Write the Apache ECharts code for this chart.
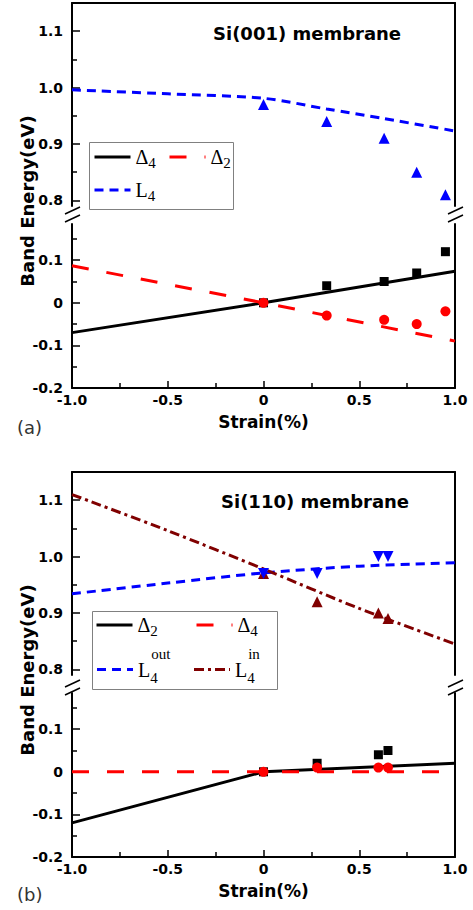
<!DOCTYPE html>
<html>
<head>
<meta charset="utf-8">
<script src="https://cdn.jsdelivr.net/npm/echarts@6/dist/echarts.min.js"></script>
<style>
  html, body { margin: 0; padding: 0; background: #fff; }
  #chart { width: 473px; height: 910px; }
</style>
</head>
<body>
<div id="chart"></div>
<script>
// (a) Si(001) membrane - computed points
const aStrain = [0, 0.33, 0.63, 0.8, 0.95];
const aDelta4 = [0, 0.04, 0.05, 0.07, 0.12];
const aDelta2 = [0, -0.03, -0.04, -0.05, -0.02];
const aL4 = [0.97, 0.94, 0.91, 0.85, 0.81];
// (a) model lines
const aFitStrain = [-1, 0, 1];
const aDelta4Fit = [-0.07, 0, 0.074];
const aDelta2Fit = [0.087, 0, -0.09];
const aL4FitStrain = [-1, -0.5, 0, 0.33, 0.63, 1];
const aL4Fit = [0.996, 0.989, 0.981, 0.962, 0.945, 0.923];

// (b) Si(110) membrane - computed points
const bStrain = [0, 0.28, 0.6, 0.65];
const bDelta2 = [0, 0.02, 0.04, 0.05];
const bDelta4 = [0, 0.01, 0.01, 0.01];
const bLout = [0.97, 0.97, 1.0, 1.0];
const bLin = [0.97, 0.92, 0.90, 0.89];
// (b) model lines
const bFitStrain = [-1, 0, 1];
const bDelta2Fit = [-0.12, 0, 0.02];
const bDelta4Fit = [0, 0, 0];
const bLFitStrain = [-1, -0.5, 0, 0.5, 1];
const bLoutFit = [0.934, 0.953, 0.971, 0.983, 0.989];
const bLinFit = [1.11, 1.046, 0.978, 0.908, 0.845];

// tick values
const xTicks = [-1, -0.5, 0, 0.5, 1];
const upperTicks = [0.8, 0.9, 1.0, 1.1];
const upperMinor = [0.85, 0.95, 1.05];
const lowerTicks = [-0.2, -0.1, 0, 0.1];
const lowerMinor = [-0.15, -0.05, 0.05, 0.15];
const upperRange = [0.79, 1.15];
const lowerRange = [-0.2, 0.185];

const BOLD = 'DejaVu Sans';
const SERIF = 'Liberation Serif';
const PLOT_L = 72, PLOT_R = 18;
const panelTops = [3, 472];

const zip = (xs, ys) => xs.map((x, i) => [x, ys[i]]);
const fmt = v => (v === 0 ? '0' : v.toFixed(1));

const chart = echarts.init(document.getElementById('chart'), null, { renderer: 'svg' });

// grids: 0 a-upper, 1 a-lower, 2 b-upper, 3 b-lower
const grids = [];
panelTops.forEach(t => {
  grids.push({ left: PLOT_L, right: PLOT_R, top: t, height: 203 });
  grids.push({ left: PLOT_L, right: PLOT_R, top: t + 221, height: 164 });
});

const axisLine = { show: true, onZero: false, lineStyle: { color: '#000', width: 2 } };
const xAxes = grids.map((g, gi) => {
  const lower = gi % 2 === 1;
  if (!lower) {
    return {
      gridIndex: gi, type: 'value', min: -1, max: 1, position: 'top',
      axisLine, axisTick: { show: false }, axisLabel: { show: false }, splitLine: { show: false }
    };
  }
  return {
    gridIndex: gi, type: 'value', min: -1, max: 1, interval: 0.5, position: 'bottom',
    axisLine,
    axisTick: { show: true, inside: true, length: 7, customValues: xTicks, lineStyle: { color: '#000', width: 1.5 } },
    minorTick: { show: true, splitNumber: 2, length: 5, lineStyle: { color: '#000', width: 1.5 } },
    axisLabel: { customValues: xTicks, formatter: fmt, margin: 5, fontFamily: BOLD, fontWeight: 'bold', fontSize: 14, color: '#000' },
    splitLine: { show: false },
    name: 'Strain(%)', nameLocation: 'middle', nameGap: 25,
    nameTextStyle: { fontFamily: BOLD, fontWeight: 'bold', fontSize: 17, color: '#000' }
  };
});

const yAxes = [];
grids.forEach((g, gi) => {
  const lower = gi % 2 === 1;
  const [mn, mx] = lower ? lowerRange : upperRange;
  const ticks = lower ? lowerTicks : upperTicks;
  const minor = lower ? lowerMinor : upperMinor;
  yAxes.push({
    gridIndex: gi, type: 'value', min: mn, max: mx, position: 'left',
    axisLine,
    axisTick: { show: true, inside: true, length: 8, customValues: ticks, lineStyle: { color: '#000', width: 1.5 } },
    axisLabel: { customValues: ticks, formatter: fmt, margin: 9, fontFamily: BOLD, fontWeight: 'bold', fontSize: 14, color: '#000' },
    splitLine: { show: false }
  });
  yAxes.push({
    gridIndex: gi, type: 'value', min: mn, max: mx, position: 'left',
    axisLine: { show: false, onZero: false },
    axisTick: { show: true, inside: true, length: 5, customValues: minor, lineStyle: { color: '#000', width: 1.5 } },
    axisLabel: { show: false }, splitLine: { show: false }
  });
  yAxes.push({
    gridIndex: gi, type: 'value', min: mn, max: mx, position: 'right',
    axisLine, axisTick: { show: false }, axisLabel: { show: false }, splitLine: { show: false }
  });
});

function fitLine(name, gi, xs, ys, color, dash, smooth) {
  return {
    type: 'line', name, xAxisIndex: gi, yAxisIndex: gi * 3,
    data: zip(xs, ys), symbol: 'none', smooth: smooth || false,
    lineStyle: { color, width: 3, type: dash }, itemStyle: { color }, z: 2
  };
}
function points(gi, xs, ys, color, symbol, size, rotate, z) {
  return {
    type: 'scatter', xAxisIndex: gi, yAxisIndex: gi * 3, data: zip(xs, ys),
    symbol, symbolSize: size, symbolRotate: rotate || 0,
    itemStyle: { color, opacity: 1 }, z: z || 3
  };
}

const BLACK = '#000000', RED = '#ff0000', BLUE = '#0000ff', DRED = '#800000';
const RED_DASH = [17, 18], BLUE_DASH = [9, 6], DASH_DOT = [10, 4, 3, 4];

const series = [
  fitLine('a-Δ4', 1, aFitStrain, aDelta4Fit, BLACK, 'solid'),
  fitLine('a-Δ2', 1, aFitStrain, aDelta2Fit, RED, RED_DASH),
  fitLine('a-L4', 0, aL4FitStrain, aL4Fit, BLUE, BLUE_DASH, 0.3),
  points(1, aStrain, aDelta4, BLACK, 'rect', 9, 0, 3),
  points(1, aStrain, aDelta2, RED, 'circle', 10, 0, 4),
  points(0, aStrain, aL4, BLUE, 'triangle', 11, 0, 3),

  fitLine('b-Δ2', 3, bFitStrain, bDelta2Fit, BLACK, 'solid'),
  fitLine('b-Δ4', 3, bFitStrain, bDelta4Fit, RED, RED_DASH),
  fitLine('b-L4out', 2, bLFitStrain, bLoutFit, BLUE, BLUE_DASH, 0.3),
  fitLine('b-L4in', 2, bLFitStrain, bLinFit, DRED, DASH_DOT, 0.3),
  points(3, bStrain, bDelta2, BLACK, 'rect', 9, 0, 3),
  points(3, bStrain, bDelta4, RED, 'circle', 10, 0, 4),
  points(2, bStrain, bLin, DRED, 'triangle', 11, 0, 3),
  points(2, bStrain, bLout, BLUE, 'triangle', 11, 180, 4)
];

// legend text styles (sub / superscripts)
function richFor(h, subH, supH) {
  return {
    m: { fontFamily: SERIF, fontSize: 20, color: '#000', lineHeight: h, verticalAlign: 'middle' },
    sub: { fontFamily: SERIF, fontSize: 15, color: '#000', height: subH, verticalAlign: 'bottom' },
    subz: { fontFamily: SERIF, fontSize: 15, color: '#000', height: subH, verticalAlign: 'bottom', width: 1 },
    sup: { fontFamily: SERIF, fontSize: 15, color: '#000', height: supH, verticalAlign: 'top' }
  };
}
function legendItem(name, left, cy, text, h, subH, supH) {
  return {
    data: [name], left, top: cy - h / 2, padding: 0, itemGap: 0,
    itemWidth: 36, itemHeight: h, selectedMode: false,
    lineStyle: { width: 3 },
    itemStyle: { opacity: 0, color: 'rgba(0,0,0,0)', borderWidth: 0 },
    formatter: text,
    textStyle: { color: '#000', rich: richFor(h, subH, supH || 16) }
  };
}

const legends = [
  legendItem('a-Δ4', 93, 160, '{m|Δ}{sub|4}', 30, 18),
  legendItem('a-Δ2', 168, 160, '{m|Δ}{sub|2}', 30, 18),
  legendItem('a-L4', 93, 193, '{m|L}{sub|4}', 30, 18),
  legendItem('b-Δ2', 95, 628, '{m|Δ}{sub|2}', 30, 18),
  legendItem('b-Δ4', 195, 628, '{m|Δ}{sub|4}', 30, 18),
  legendItem('b-L4out', 95, 671, '{m|L}{subz|4}{sup|out}', 50, 34, 18),
  legendItem('b-L4in', 192, 671, '{m|L}{subz|4}{sup|in}', 50, 34, 18)
];

// axis break marks and decorations
const graphics = [];
panelTops.forEach((t, pi) => {
  const yb = t + 204 + (pi === 1 ? 4 : 0);
  [PLOT_L, 473 - PLOT_R].forEach(x => {
    [0, 8].forEach(dy => {
      graphics.push({
        type: 'line', silent: true,
        shape: { x1: x - 7, y1: yb + dy + 7, x2: x + 8, y2: yb + dy },
        style: { stroke: '#000', lineWidth: 1.5 }
      });
    });
  });
  graphics.push({
    type: 'text', x: 27, y: t + 198, rotation: Math.PI / 2, silent: true,
    style: {
      text: 'Band Energy(eV)', fill: '#000', font: 'bold 18px "DejaVu Sans"',
      textAlign: 'center', textVerticalAlign: 'middle'
    }
  });
});
graphics.push({ type: 'rect', silent: true, z: -1, shape: { x: 89.5, y: 142.5, width: 144, height: 67 },
  style: { fill: 'none', stroke: '#808080', lineWidth: 1 } });
graphics.push({ type: 'rect', silent: true, z: -1, shape: { x: 92.5, y: 611.5, width: 185, height: 78 },
  style: { fill: 'none', stroke: '#808080', lineWidth: 1 } });

const titles = [
  { text: 'Si(001) membrane', left: 213, top: 24, padding: 0,
    textStyle: { fontFamily: BOLD, fontWeight: 'bold', fontSize: 18, color: '#000' } },
  { text: 'Si(110) membrane', left: 221, top: 492, padding: 0,
    textStyle: { fontFamily: BOLD, fontWeight: 'bold', fontSize: 18, color: '#000' } },
  { text: '(a)', left: 17, top: 418, padding: 0,
    textStyle: { fontFamily: BOLD, fontWeight: 'normal', fontSize: 18, color: '#333' } },
  { text: '(b)', left: 17, top: 885, padding: 0,
    textStyle: { fontFamily: BOLD, fontWeight: 'normal', fontSize: 18, color: '#333' } }
];

chart.setOption({
  animation: false,
  backgroundColor: '#fff',
  title: titles,
  grid: grids,
  xAxis: xAxes,
  yAxis: yAxes,
  legend: legends,
  graphic: graphics,
  series
});
</script>
</body>
</html>
